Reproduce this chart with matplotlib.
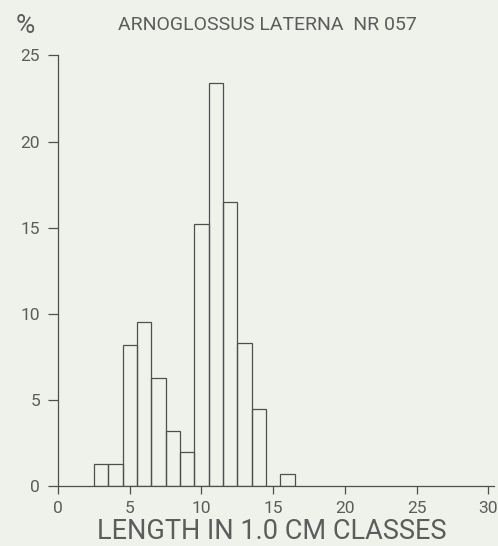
import numpy as np
import matplotlib.pyplot as plt

# length classes (cm, class centres) and percentage of catch
length_cm = [3, 4, 5, 6, 7, 8, 9, 10, 11, 12, 13, 14, 15, 16]
percent = [1.3, 1.3, 8.2, 9.5, 6.3, 3.2, 2.0, 15.2, 23.4, 16.5, 8.3, 4.5, 0.0, 0.7]

x_ticks = [0, 5, 10, 15, 20, 25, 30]
y_ticks = [0, 5, 10, 15, 20, 25]

title = "ARNOGLOSSUS LATERNA  NR 057"
xlabel = "LENGTH IN 1.0 CM CLASSES"

paper = "#eff1eb"
ink = "#4f4f4f"
text_ink = "#5c5c5c"

plt.rcParams["font.family"] = ["Roboto", "DejaVu Sans"]
plt.rcParams["font.weight"] = "normal"

fig = plt.figure(figsize=(4.98, 5.46), dpi=100, facecolor=paper)
ax = fig.add_axes([0.1165, 0.1099, 0.8755, 0.7885])
ax.set_facecolor(paper)

ax.bar(length_cm, percent, width=1.0, fill=False, edgecolor=ink, linewidth=0.9)

ax.set_xlim(0, 30.4)
ax.set_ylim(0, 25)
ax.set_xticks(x_ticks)
ax.set_yticks(y_ticks)

for side in ["top", "right"]:
    ax.spines[side].set_visible(False)
for side in ["left", "bottom"]:
    ax.spines[side].set_color(ink)
    ax.spines[side].set_linewidth(0.9)

ax.tick_params(axis="y", direction="out", length=7, width=0.9, color=ink,
               labelcolor=text_ink, labelsize=12.5, pad=6)
ax.tick_params(axis="x", direction="out", length=5.5, width=0.9, color=ink,
               labelcolor=text_ink, labelsize=12.5, pad=5)

fig.text(0.538, 0.954, title, ha="center", va="center", color=text_ink, fontsize=14)
fig.text(0.05, 0.953, "%", ha="center", va="center", color=text_ink, fontsize=19)
fig.text(0.545, 0.027, xlabel, ha="center", va="center", color=text_ink, fontsize=19.5)

fig.savefig("out.png", dpi=100, facecolor=paper)
